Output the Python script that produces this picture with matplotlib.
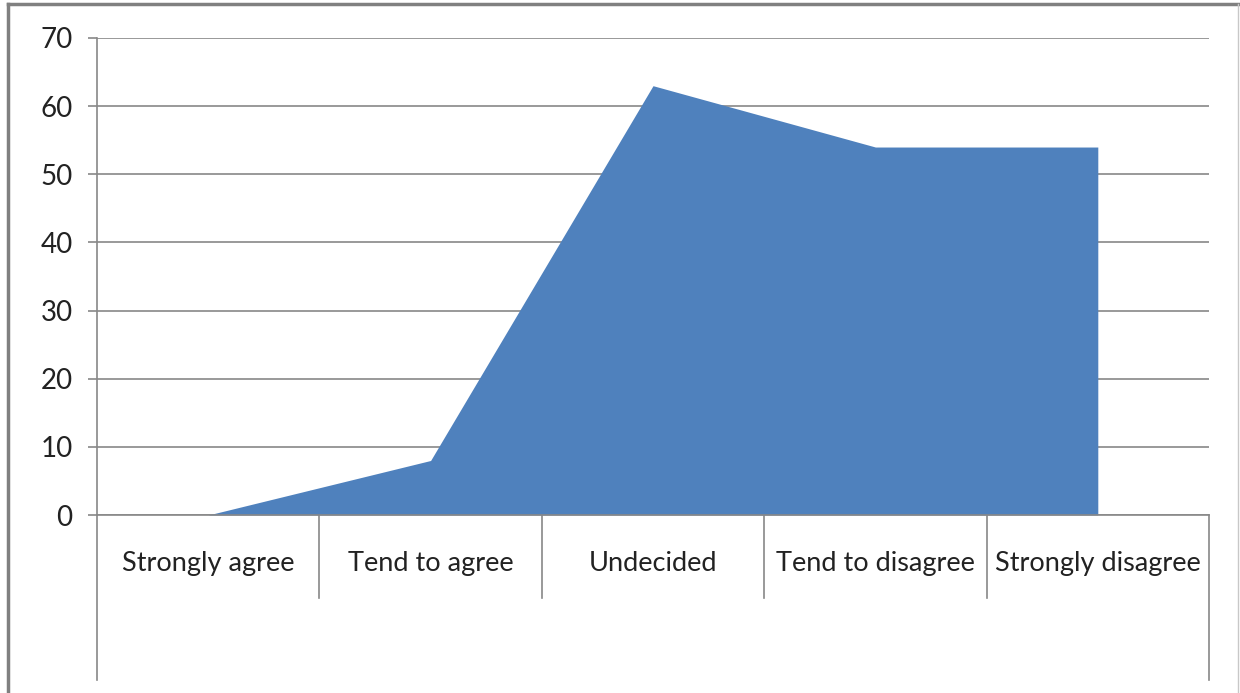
import matplotlib.pyplot as plt
from matplotlib.lines import Line2D

categories = ['Strongly agree', 'Tend to agree', 'Undecided', 'Tend to disagree', 'Strongly disagree']
values = [0, 8, 63, 54, 54]
yticks = [0, 10, 20, 30, 40, 50, 60, 70]

plt.rcParams['font.family'] = ['Lato', 'DejaVu Sans']

fig = plt.figure(figsize=(12.4, 6.93), dpi=100)
W, H = 1240, 693
ax = fig.add_axes([97 / W, 1 - 515 / H, (1209 - 97) / W, (515 - 38) / H])

x = list(range(len(categories)))
ax.fill_between(x, values, 0, color='#4F81BD', linewidth=0, zorder=3)

ax.set_xlim(-0.5, len(categories) - 0.5)
ax.set_ylim(0, 70)
ax.set_yticks(yticks)
ax.set_yticklabels([str(v) for v in yticks], fontsize=20, color='#222222')
ax.tick_params(axis='y', length=6.5, width=1.2, color='#888888', pad=11)
ax.set_xticks([])
ax.grid(axis='y', color='#888888', linewidth=1.2, zorder=1)
for s in ['top', 'right', 'bottom']:
    ax.spines[s].set_visible(False)
ax.spines['left'].set_color('#888888')
ax.spines['left'].set_linewidth(1.2)

trans = ax.get_xaxis_transform()
y_sep = (515 - 598) / (515 - 38)
y_low = (515 - 680) / (515 - 38)
y_lab = (515 - 571) / (515 - 38)

# category table below the axis
ax.plot([-0.5, len(categories) - 0.5], [0, 0], transform=trans, color='#888888',
        lw=1.2, clip_on=False, zorder=4)
for b in range(len(categories) - 1):
    ax.plot([b + 0.5, b + 0.5], [0, y_sep], transform=trans, color='#888888',
            lw=1.2, clip_on=False)
ax.plot([-0.5, -0.5], [0, y_low], transform=trans, color='#888888', lw=1.2, clip_on=False)
ax.plot([len(categories) - 0.5] * 2, [0, y_low], transform=trans, color='#888888',
        lw=1.2, clip_on=False)
for i, c in enumerate(categories):
    ax.text(i, y_lab, c, transform=trans, ha='center', va='baseline', fontsize=19.5,
            color='#222222')

# outer frame
fig.add_artist(Line2D([8 / W, 8 / W], [0, 1 - 4 / H], color='#808080', lw=2.5))
fig.add_artist(Line2D([8 / W, 1238 / W], [1 - 4 / H, 1 - 4 / H], color='#808080', lw=2.5))
fig.add_artist(Line2D([1238 / W, 1238 / W], [0, 1 - 4 / H], color='#c8c8c8', lw=1))

fig.savefig('out.png', dpi=100)
